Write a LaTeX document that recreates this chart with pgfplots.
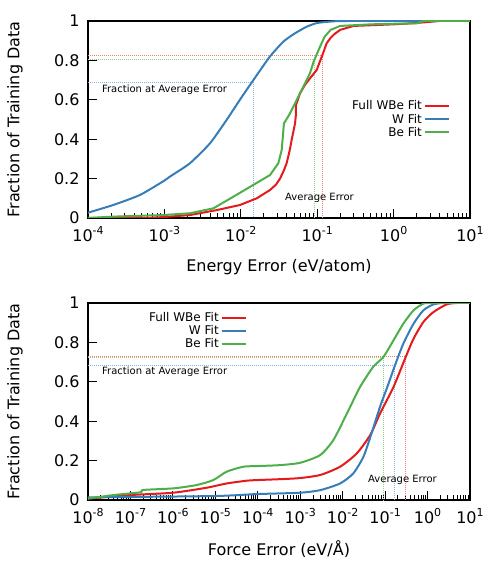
\documentclass[border=0pt]{standalone}
\usepackage{pgfplots}
\pgfplotsset{compat=1.18}
\usepackage{fontspec}
\setmainfont{DejaVu Sans}

\definecolor{fullred}{RGB}{228,26,28}
\definecolor{wblue}{RGB}{55,126,184}
\definecolor{begreen}{RGB}{77,175,74}
\definecolor{fullredlt}{RGB}{245,120,120}
\definecolor{wbluelt}{RGB}{130,180,225}
\definecolor{begreenlt}{RGB}{140,210,130}

% power-of-ten tick label in the text font
\newcommand{\tp}[1]{10\raisebox{0.42em}{\fontsize{11}{11}\selectfont #1}}

\tikzset{
  fitline/.style={line width=2pt, draw=#1},
  avgline/.style={line width=1pt, dash pattern=on 1pt off 1pt, draw=#1},
}

\pgfplotsset{
  cdfaxis/.style={
    scale only axis, width=382pt, height=197pt,
    ymin=0, ymax=1,
    tick pos=left, tick align=inside,
    major tick length=9pt, minor tick length=5pt,
    every tick/.style={black, line width=0.9pt},
    axis line style={line width=1.2pt},
    ytick={0,0.2,0.4,0.6,0.8,1},
    yticklabels={0,0.2,0.4,0.6,0.8,1},
    tick label style={font=\fontsize{16}{19}\selectfont},
    yticklabel style={xshift=-5pt},
    xticklabel style={yshift=-5pt},
    label style={font=\fontsize{16}{19}\selectfont},
    ylabel={Fraction of Training Data},
    ylabel style={at={(axis description cs:-0.191,0.5)}, anchor=center},
    xlabel style={at={(axis description cs:0.5,-0.249)}, anchor=center},
    legend plot pos=right,
    legend cell align=right,
    legend image code/.code={\draw[##1] (5pt,0pt) -- (29pt,0pt);},
    legend style={draw=none, fill=none, inner sep=0pt,
      font=\fontsize{12}{14}\selectfont, row sep=-1.5pt,
      anchor=north east},
  }
}

\begin{document}
\begin{tikzpicture}
\useasboundingbox (0,0) rectangle (501pt,563pt);

% ---------------- energy errors ----------------
\begin{axis}[cdfaxis, xmode=log,
  at={(88pt,345pt)}, anchor=south west,
  xmin=1e-4, xmax=1e1,
  xtick={1e-4,1e-3,1e-2,1e-1,1e0,1e1},
  xticklabels={\tp{-4},\tp{-3},\tp{-2},\tp{-1},\tp{0},\tp{1}},
  xlabel={Energy Error (eV/atom)},
  legend style={at={(axis description cs:0.948,0.606)}},
]
\addlegendimage{fitline=fullred}
\addlegendentry{Full WBe Fit}
\addlegendimage{fitline=wblue}
\addlegendentry{W Fit}
\addlegendimage{fitline=begreen}
\addlegendentry{Be Fit}
% fraction at the average error of each fit
\addplot[avgline=fullredlt, forget plot] coordinates {(1e-4,0.826) (0.1167,0.826) (0.1167,0)};
\addplot[avgline=begreenlt, forget plot] coordinates {(1e-4,0.805) (9.25e-2,0.805) (9.25e-2,0)};
\addplot[avgline=wbluelt, forget plot] coordinates {(1e-4,0.687) (1.4e-2,0.687)};
\addplot[avgline=wbluelt, forget plot] coordinates {(1.46e-2,0.70) (1.46e-2,0)};

\addplot[fitline=fullred, forget plot] coordinates {
(1e-4,0) (6.3e-4,0.001) (1e-3,0.005) (2.16e-3,0.015) (4.83e-3,0.04)
(9.77e-3,0.066) (1.62e-2,0.10) (2.41e-2,0.142) (2.9e-2,0.17) (3.26e-2,0.20)
(3.65e-2,0.24) (3.98e-2,0.278) (4.35e-2,0.34) (4.63e-2,0.396) (5.13e-2,0.48) (5.25e-2,0.52)
(5.28e-2,0.574) (5.96e-2,0.633) (6.9e-2,0.675) (8.05e-2,0.709) (9.84e-2,0.751)
(0.1167,0.826) (0.133,0.887) (0.15,0.915) (0.17,0.935) (0.2,0.955) (0.3,0.975)
(1,0.983) (2,0.99) (4,1) (10,1)};
\addplot[fitline=wblue, smooth, tension=0.35, forget plot] coordinates {
(1e-4,0.027) (2.14e-4,0.066) (4.8e-4,0.117)
(1e-3,0.19) (1.18e-3,0.21) (2.16e-3,0.278) (3.95e-3,0.379)
(6.5e-3,0.497) (1e-2,0.607) (1.46e-2,0.70) (2.4e-2,0.819)
(3.6e-2,0.895) (5e-2,0.935) (7.2e-2,0.97) (0.1,0.99) (0.16,0.998)
(0.25,1) (10,1)};
\addplot[fitline=begreen, forget plot] coordinates {
(1e-4,0) (2.14e-4,0.007) (9.7e-4,0.015) (2.16e-3,0.024) (4.37e-3,0.049)
(7.98e-3,0.108) (1.46e-2,0.168) (2.41e-2,0.218) (3.1e-2,0.278)
(3.43e-2,0.345) (3.67e-2,0.48) (4.41e-2,0.531) (5.38e-2,0.599)
(6.58e-2,0.666) (8.05e-2,0.735) (8.91e-2,0.790) (9.25e-2,0.805)
(0.109,0.87) (0.125,0.92) (0.15,0.955) (0.2,0.975) (0.5,0.983)
(1,0.986) (2,0.988) (2.5,1) (10,1)};
\node[anchor=west, inner sep=0pt, font=\fontsize{10}{12}\selectfont]
  at (axis cs:1.52e-4,0.65) {Fraction at Average Error};
\node[anchor=west, inner sep=0pt, font=\fontsize{10}{12}\selectfont]
  at (axis cs:0.0379,0.10) {Average Error};
\end{axis}

% ---------------- force errors ----------------
\begin{axis}[cdfaxis, xmode=log,
  at={(88pt,63pt)}, anchor=south west,
  xmin=1e-8, xmax=1e1,
  xtick={1e-8,1e-7,1e-6,1e-5,1e-4,1e-3,1e-2,1e-1,1e0,1e1},
  xticklabels={\tp{-8},\tp{-7},\tp{-6},\tp{-5},\tp{-4},\tp{-3},\tp{-2},\tp{-1},\tp{0},\tp{1}},
  xlabel={Force Error (eV/Å)},
  legend style={at={(axis description cs:0.416,0.963)}},
]
\addlegendimage{fitline=fullred}
\addlegendentry{Full WBe Fit}
\addlegendimage{fitline=wblue}
\addlegendentry{W Fit}
\addlegendimage{fitline=begreen}
\addlegendentry{Be Fit}
% fraction at the average error of each fit
\addplot[avgline=fullredlt, forget plot] coordinates {(1e-8,0.726) (0.306,0.726) (0.306,0)};
\addplot[avgline=begreenlt, forget plot] coordinates {(1e-8,0.7245) (9.12e-2,0.7245) (9.12e-2,0)};
\addplot[avgline=wbluelt, forget plot] coordinates {(1e-8,0.681) (0.169,0.681) (0.169,0)};

\addplot[fitline=fullred, smooth, tension=0.4, forget plot] coordinates {
(1e-8,0.007) (9.77e-8,0.025) (1.02e-6,0.037) (6.31e-6,0.0625)
(1.86e-5,0.084) (5.5e-5,0.098) (9.33e-5,0.101) (8.3e-4,0.11)
(2.95e-3,0.127) (8.71e-3,0.169) (2.14e-2,0.236) (4.47e-2,0.33)
(7.59e-2,0.439) (0.158,0.574) (0.306,0.726) (0.468,0.819) (0.80,0.904)
(1.38,0.954) (2.82,0.993) (4.9,1) (10,1)};
\addplot[fitline=wblue, smooth, tension=0.4, forget plot] coordinates {
(1e-8,0.0135) (8.91e-6,0.02) (9.33e-5,0.03) (1e-3,0.037) (2.95e-3,0.05)
(8.71e-3,0.084) (1.78e-2,0.135) (3.09e-2,0.22) (4.79e-2,0.338)
(7.59e-2,0.473) (0.120,0.59) (0.169,0.681) (0.269,0.794) (0.468,0.895)
(0.80,0.963) (1.38,0.993) (2.34,1) (10,1)};
\addplot[fitline=begreen, smooth, tension=0.4, forget plot] coordinates {
(1e-8,0.007) (3.98e-8,0.025) (1.7e-7,0.039) (2.0e-7,0.051)
(1.02e-6,0.059) (3.63e-6,0.076) (8.91e-6,0.101) (1.86e-5,0.144)
(4.57e-5,0.169) (9.33e-5,0.172) (3.31e-4,0.177) (1e-3,0.189)
(2.95e-3,0.228) (6.03e-3,0.304) (1.26e-2,0.439) (2.57e-2,0.574)
(5.25e-2,0.676) (9.12e-2,0.726) (0.158,0.811) (0.269,0.895)
(0.468,0.963) (0.80,0.997) (1.15,1) (10,1)};
\node[anchor=west, inner sep=0pt, font=\fontsize{10}{12}\selectfont]
  at (axis cs:2.14e-8,0.649) {Fraction at Average Error};
\node[anchor=west, inner sep=0pt, font=\fontsize{10}{12}\selectfont]
  at (axis cs:0.0395,0.10) {Average Error};
\end{axis}
\end{tikzpicture}
\end{document}
